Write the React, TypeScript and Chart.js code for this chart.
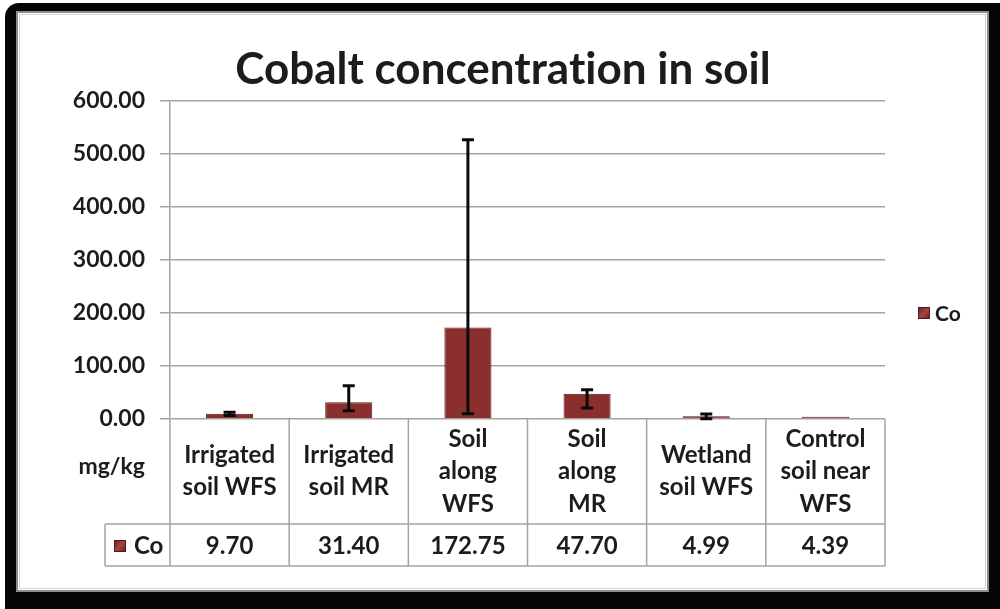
import React, { useEffect, useRef } from "react";
import { Chart, registerables } from "chart.js";

Chart.register(...registerables);

const chartTitle = "Cobalt concentration in soil";
const categories = [
  ["Irrigated", "soil WFS"],
  ["Irrigated", "soil MR"],
  ["Soil", "along", "WFS"],
  ["Soil", "along", "MR"],
  ["Wetland", "soil WFS"],
  ["Control", "soil near", "WFS"],
];
const seriesName = "Co";
const coValues = [9.7, 31.4, 172.75, 47.7, 4.99, 4.39];
const errorPlus = [3, 31.4, 354, 7.5, 4.5, 0];
const errorMinus = [3, 15.8, 163, 27, 4.5, 0];
const yMin = 0;
const yMax = 600;
const yStep = 100;
const unitLabel = "mg/kg";

const FONT = "Lato, 'Open Sans', sans-serif";
const TEXT = "#1c1c1c";
const GRID = "#a4a4a4";
const BAR = "#8a2e2e";

function drawMarker(ctx: CanvasRenderingContext2D, x: number, y: number, s: number) {
  ctx.save();
  const g = ctx.createLinearGradient(x, y, x + s, y + s);
  g.addColorStop(0, "#6e1e1e");
  g.addColorStop(0.5, "#a04545");
  g.addColorStop(1, "#6e1e1e");
  ctx.fillStyle = g;
  ctx.fillRect(x, y, s, s);
  ctx.strokeStyle = "#5a1616";
  ctx.lineWidth = 1;
  ctx.strokeRect(x + 0.5, y + 0.5, s - 1, s - 1);
  ctx.restore();
}

const framePlugin = {
  id: "frame",
  beforeDraw(chart: any) {
    const ctx = chart.ctx as CanvasRenderingContext2D;
    const W = chart.width;
    const H = chart.height;
    ctx.save();
    ctx.fillStyle = "#ffffff";
    ctx.fillRect(0, 0, W, H);
    ctx.fillStyle = "#050505";
    ctx.beginPath();
    (ctx as any).roundRect(5, 3, W + 20, H + 20, 14);
    ctx.fill();
    ctx.fillStyle = "#ffffff";
    ctx.fillRect(16, 11, 973, 581);
    ctx.strokeStyle = "#8c8c8c";
    ctx.lineWidth = 2;
    ctx.strokeRect(17, 12, 971, 579);
    ctx.strokeStyle = "#d4d4d4";
    ctx.lineWidth = 1;
    ctx.strokeRect(19.5, 14.5, 966, 574);
    ctx.restore();
  },
};

const errorBarPlugin = {
  id: "errorBars",
  afterDatasetsDraw(chart: any) {
    const ctx = chart.ctx as CanvasRenderingContext2D;
    const meta = chart.getDatasetMeta(0);
    const yScale = chart.scales.y;
    ctx.save();
    ctx.strokeStyle = "#0a0a0a";
    ctx.lineWidth = 3;
    meta.data.forEach((bar: any, i: number) => {
      const v = coValues[i];
      if (!errorPlus[i] && !errorMinus[i]) return;
      const yTop = yScale.getPixelForValue(v + errorPlus[i]);
      const yBot = yScale.getPixelForValue(v - errorMinus[i]);
      const x = bar.x;
      const cap = 6;
      ctx.beginPath();
      ctx.moveTo(x, yTop);
      ctx.lineTo(x, yBot);
      ctx.moveTo(x - cap, yTop);
      ctx.lineTo(x + cap, yTop);
      ctx.moveTo(x - cap, yBot);
      ctx.lineTo(x + cap, yBot);
      ctx.stroke();
    });
    ctx.restore();
  },
};

const tablePlugin = {
  id: "dataTable",
  afterDraw(chart: any) {
    const ctx = chart.ctx as CanvasRenderingContext2D;
    const area = chart.chartArea;
    const n = categories.length;
    const colW = (area.right - area.left) / n;
    const top = area.bottom;
    const mid = 524;
    const bottom = 566;
    const headLeft = 105;

    ctx.save();
    // title
    ctx.fillStyle = TEXT;
    ctx.font = `bold 44px ${FONT}`;
    (ctx as any).letterSpacing = "0.01px";
    ctx.textAlign = "center";
    ctx.textBaseline = "alphabetic";
    const tw = ctx.measureText(chartTitle).width;
    const sx = Math.min(1, 541 / tw);
    ctx.save();
    ctx.translate(503, 84);
    ctx.scale(sx, 1);
    ctx.fillText(chartTitle, 0, 0);
    ctx.restore();
    (ctx as any).letterSpacing = "0px";

    // table lines
    ctx.strokeStyle = GRID;
    ctx.lineWidth = 1.5;
    ctx.beginPath();
    for (let i = 0; i <= n; i++) {
      const x = area.left + i * colW;
      ctx.moveTo(x, top);
      ctx.lineTo(x, bottom);
    }
    ctx.moveTo(headLeft, mid);
    ctx.lineTo(area.right, mid);
    ctx.moveTo(headLeft, bottom);
    ctx.lineTo(area.right, bottom);
    ctx.moveTo(headLeft, mid);
    ctx.lineTo(headLeft, bottom);
    ctx.stroke();

    // category labels
    ctx.fillStyle = TEXT;
    ctx.font = `bold 24px ${FONT}`;
    ctx.textAlign = "center";
    ctx.textBaseline = "middle";
    const lineH = 32.5;
    const rowMid = (top + mid) / 2;
    categories.forEach((lines, i) => {
      const cx = area.left + (i + 0.5) * colW;
      const y0 = rowMid - ((lines.length - 1) * lineH) / 2;
      lines.forEach((t, j) => ctx.fillText(t, cx, y0 + j * lineH));
    });
    // values
    const valMid = (mid + bottom) / 2 + 1;
    coValues.forEach((v, i) => {
      const cx = area.left + (i + 0.5) * colW;
      ctx.fillText(v.toFixed(2), cx, valMid);
    });

    // unit label
    ctx.textAlign = "right";
    ctx.font = `bold 23px ${FONT}`;
    ctx.fillText(unitLabel, 145, 467);

    // row header legend key
    drawMarker(ctx, 114, valMid - 6, 12);
    ctx.fillStyle = TEXT;
    ctx.textAlign = "left";
    ctx.font = `bold 24px ${FONT}`;
    ctx.fillText(seriesName, 134, valMid);

    // right legend
    drawMarker(ctx, 918, 307, 12);
    ctx.fillStyle = TEXT;
    ctx.font = `bold 21px ${FONT}`;
    ctx.fillText(seriesName, 935, 314);
    ctx.restore();
  },
};

export default function App() {
  const canvasRef = useRef<HTMLCanvasElement | null>(null);

  useEffect(() => {
    const canvas = canvasRef.current;
    if (!canvas) return;
    const chart = new Chart(canvas, {
      type: "bar",
      data: {
        labels: categories.map((c) => c.join(" ")),
        datasets: [
          {
            label: seriesName,
            data: coValues,
            backgroundColor: (c: any) => {
              const ch = c.chart;
              const el = c.element;
              if (!ch.chartArea || !el || !Number.isFinite(el.x) || !Number.isFinite(el.width)) return BAR;
              const { ctx } = ch;
              const half = el.width / 2;
              const g = ctx.createLinearGradient(el.x - half, 0, el.x + half, 0);
              g.addColorStop(0, "#7a2626");
              g.addColorStop(0.5, "#943737");
              g.addColorStop(1, "#7a2626");
              return g;
            },
            borderColor: "#5c1818",
            borderWidth: 1,
            barPercentage: 0.395,
            categoryPercentage: 1,
          },
        ],
      },
      options: {
        responsive: false,
        maintainAspectRatio: false,
        animation: false,
        events: [],
        layout: { padding: { left: 0, top: 101, right: 115, bottom: 190 } },
        plugins: {
          legend: { display: false },
          title: { display: false },
          tooltip: { enabled: false },
        },
        scales: {
          x: { display: false },
          y: {
            min: yMin,
            max: yMax,
            afterFit: (s: any) => {
              s.width = 170;
            },
            ticks: {
              stepSize: yStep,
              padding: 15,
              color: TEXT,
              font: { family: FONT, weight: "bold", size: 23 },
              callback: (v: any) => Number(v).toFixed(2),
            },
            grid: { color: GRID, lineWidth: 1.5, tickLength: 10, drawTicks: true },
            border: { display: true, color: GRID, width: 1.5 },
          },
        },
      } as any,
      plugins: [framePlugin, errorBarPlugin, tablePlugin],
    });
    return () => chart.destroy();
  }, []);

  return (
    <div style={{ position: "absolute", left: 0, top: 0, width: 1000, height: 609 }}>
      <canvas ref={canvasRef} width={1000} height={609} style={{ display: "block" }} />
    </div>
  );
}
